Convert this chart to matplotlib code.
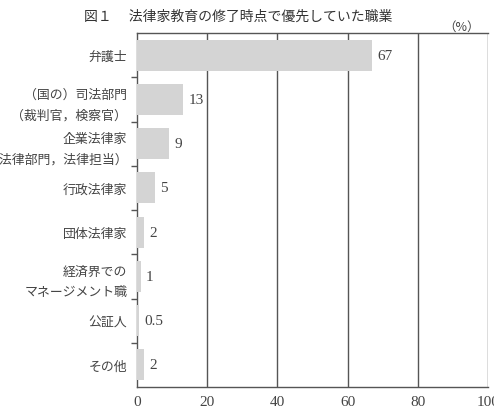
import matplotlib
matplotlib.use("Agg")
import matplotlib.pyplot as plt

plt.rcParams['font.family'] = ['Noto Sans CJK JP', 'DejaVu Sans']

categories = ["弁護士", "（国の）司法部門\n（裁判官，検察官）", "企業法律家\n（法律部門，法律担当）",
              "行政法律家", "団体法律家", "経済界での\nマネージメント職", "公証人", "その他"]
values = [67, 13, 9, 5, 2, 1, 0.5, 2]
value_labels = ["67", "13", "9", "5", "2", "1", "0.5", "2"]
xticks = [0, 20, 40, 60, 80, 100]

serif = ["Liberation Serif", "DejaVu Serif"]

fig = plt.figure(figsize=(4.94, 4.14), dpi=100)
ax = fig.add_axes([137/494, 1-388/414, (488-137)/494, (388-34)/414])

n = len(categories)
ypos = list(range(n))
ax.barh(ypos, values, height=0.7, color="#d4d4d4", zorder=3)
for y, v, lab in zip(ypos, values, value_labels):
    ax.annotate(lab, (v, y), xytext=(4, 0), textcoords="offset points",
                va="center", ha="left", fontsize=11, color="#444444",
                family=serif, zorder=4)

ax.set_ylim(n - 0.5, -0.5)
ax.set_xlim(0, 100)
ax.set_xticks(xticks)
ax.set_xticklabels([str(t) for t in xticks], family=serif,
                   fontsize=11, color="#444444")
ax.tick_params(axis="x", length=0, pad=6)
for t in xticks[1:]:
    ax.axvline(t, color="#555555", lw=1.0, zorder=2)

ax.set_yticks(ypos)
ax.set_yticklabels(categories, fontsize=9.3, color="#444444", linespacing=1.75)
ax.tick_params(axis="y", length=0, pad=7)
ax.set_yticks([i + 0.5 for i in range(n - 1)], minor=True)
ax.tick_params(axis="y", which="minor", length=4, width=1, color="#555555", direction="out")

for s in ["left", "bottom", "top"]:
    ax.spines[s].set_color("#555555")
    ax.spines[s].set_linewidth(1.0)
ax.spines["right"].set_visible(False)

fig.text(238/494, 1-17/414, "図１　 法律家教育の修了時点で優先していた職業", ha="center", va="center",
         fontsize=10, color="#333333")
fig.text(462/494, 1-27/414, "（%）", ha="center", va="center", fontsize=9, color="#444444")

fig.savefig("out.png", dpi=100)
